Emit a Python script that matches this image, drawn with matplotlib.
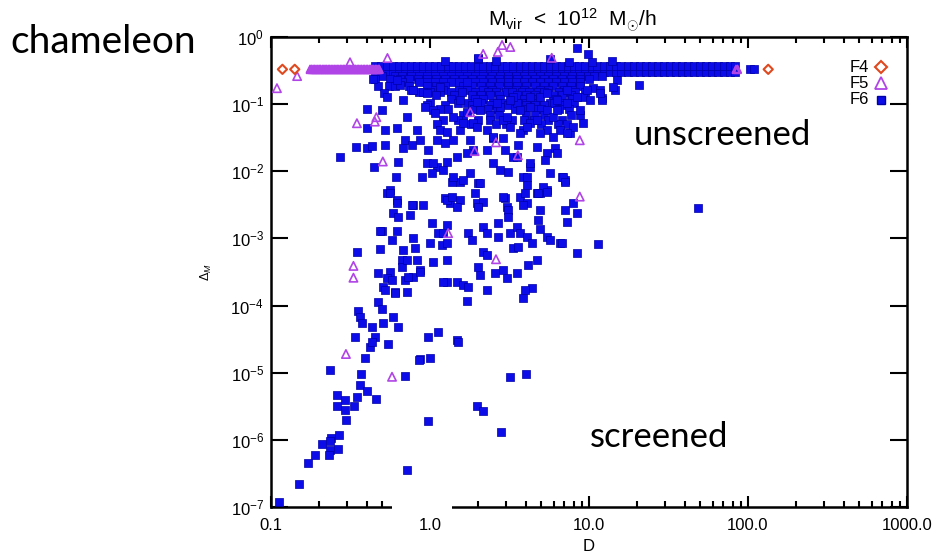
import matplotlib
matplotlib.use("Agg")
import matplotlib.pyplot as plt
from matplotlib.lines import Line2D
from matplotlib.patches import Rectangle
from matplotlib.ticker import FixedLocator, FixedFormatter, LogLocator, NullLocator
import matplotlib.transforms as mtransforms

# ---------------- data (D, Delta_M) ----------------
f4_D = [0.118, 0.141, 134]
f4_dM = [0.33, 0.33, 0.33]

f5_band_D = [0.176, 0.18, 0.184, 0.188, 0.192, 0.197, 0.201, 0.205, 0.210, 0.215,
             0.219, 0.224, 0.229, 0.234, 0.239, 0.245, 0.250, 0.256, 0.261, 0.267,
             0.273, 0.279, 0.285, 0.291, 0.298, 0.305, 0.311, 0.318, 0.325, 0.333,
             0.340, 0.348, 0.355, 0.363, 0.371, 0.38, 0.388, 0.397, 0.405, 0.415,
             0.424, 0.433, 0.443, 0.453, 0.463, 0.472, 0.48, 84.0, 86.0]
f5_band_levels = [0.325, 0.335]
f5_points = [(0.109, 0.173), (0.146, 0.262), (0.314, 0.42), (0.54, 0.486),
             (2.84, 0.76), (3.2, 0.71), (2.67, 0.60), (2.16, 0.56), (5.83, 0.49),
             (0.347, 0.052), (0.46, 0.064), (0.45, 0.055), (0.505, 0.014),
             (8.75, 0.029), (8.75, 0.0042), (1.79, 0.076), (2.6, 0.027),
             (1.91, 0.020), (3.57, 0.0173), (1.3, 0.0012), (2.6, 0.00049),
             (0.33, 0.00039), (0.33, 0.00026), (0.296, 1.9e-5), (0.577, 8.7e-6)]

# dense horizontal band of F6 haloes
f6_band_D = [0.45, 0.49, 0.535, 0.585, 0.64, 0.70, 0.76, 0.83, 0.91, 0.99, 1.08,
             1.18, 1.29, 1.40, 1.53, 1.67, 1.82, 1.99, 2.17, 2.37, 2.58, 2.82,
             3.07, 3.35, 3.66, 3.99, 4.35, 4.75, 5.18, 5.65, 6.17, 6.73, 7.34,
             8.0, 8.7, 9.5, 10.4, 11.3, 12.4, 13.5, 14.7, 16.0, 17.5, 19.1, 20.8,
             22.7, 24.8, 27.0, 29.5, 32.2, 35.1, 38.3, 41.8, 45.6, 49.7, 54.3,
             59.2, 64.6, 70.5, 76.9, 83.0]
f6_band_levels = [0.30, 0.37]

# dense cloud just below the band
f6_dense_rows = {
    0.265: [0.50, 0.60, 0.67, 0.76, 0.85, 0.96, 1.08, 1.21, 1.36, 1.53, 1.72, 1.93,
            2.17, 2.44, 2.74, 3.08, 3.46, 3.89, 4.37, 4.91, 5.52, 6.2, 6.97, 7.83,
            8.8, 9.9, 10.8, 12.0],
    0.24: [0.45, 0.56, 0.647, 0.738, 0.841, 0.958, 1.09, 1.24, 1.42, 1.61,
           1.84, 2.09, 2.38, 2.72, 3.10, 3.53, 4.02, 4.57, 5.21, 5.94, 6.77,
           7.71, 8.78, 10.0],
    0.215: [0.67, 0.85, 0.96, 1.08, 1.21, 1.36, 1.53, 1.72, 1.93, 2.17, 2.44, 2.74,
            3.08, 3.46, 3.89, 4.37, 4.91, 5.52, 6.2, 6.97, 7.83, 8.8],
    0.186: [0.47, 0.55, 0.60, 0.738, 0.958, 1.09, 1.24, 1.61, 1.84, 2.09, 2.38,
            2.72, 3.10, 3.53, 4.02, 4.57, 5.21, 5.94, 6.77, 7.71, 8.78],
    0.165: [0.76, 1.08, 1.21, 1.53, 1.72, 2.17, 2.44, 3.08, 3.46, 3.89, 4.91, 5.52,
            6.97, 7.83],
    0.15: [0.85, 1.0, 1.15, 1.36, 1.6, 1.93, 2.3, 2.6, 3.0, 3.3, 3.8, 4.2, 4.8,
           5.2, 6.5, 7.2, 8.2, 9.5],
    0.137: [1.09, 1.42, 1.84, 2.09, 2.38, 2.72, 3.53, 4.02, 4.57, 5.94, 6.77, 7.71],
    0.12: [1.36, 1.93, 2.17, 2.74, 3.89, 4.37, 6.2, 7.83],
    0.105: [1.0, 1.5, 1.7, 2.1, 2.5, 2.9, 3.5, 4.0, 4.7, 5.7, 6.0, 7.0, 8.0],
    0.097: [1.24, 1.84, 2.38, 3.10, 4.02, 4.57, 5.21, 6.77],
    0.085: [1.15, 1.3, 1.9, 2.3, 2.65, 3.4, 3.9, 4.7, 5.0, 6.5, 7.5],
    0.069: [1.61, 2.38, 2.72, 4.02, 4.57, 5.21, 7.71, 8.78],
    0.058: [1.2, 1.5, 2.0, 2.4, 3.3, 3.9, 4.5, 5.5, 6.8],
    0.05: [1.1, 1.8, 2.6, 3.0, 5.0, 6.4, 7.3],
}

f6_upper = [(2.0, 0.47), (2.6, 0.44), (5.7, 0.47), (1.25, 0.44), (7.5, 0.43),
            (10.5, 0.42), (8.41, 0.686), (9.86, 0.558), (2.00, 0.486),
            (14.0, 0.44), (103, 0.33), (109, 0.33), (20.6, 0.193), (14.6, 0.162),
            (12.1, 0.123), (15.0, 0.229), (14.2, 0.18)]

f6_mid = [(0.438, 0.237), (0.402, 0.0845), (0.402, 0.044), (0.343, 0.0229),
          (0.402, 0.0222), (0.432, 0.0237), (0.272, 0.0163), (0.445, 0.0116),
          (0.521, 0.0411), (0.521, 0.0246), (0.499, 0.0817), (0.514, 0.146),
          (0.537, 0.128), (0.620, 0.044), (0.629, 0.0137), (0.611, 0.0082),
          (0.560, 0.00525), (0.537, 0.00473), (0.620, 0.00372), (0.782, 0.00314),
          (0.904, 0.00314), (0.891, 0.0082), (0.958, 0.0133), (0.865, 0.0292),
          (0.696, 0.0292), (0.676, 0.0222), (0.771, 0.0246), (0.971, 0.0207),
          (0.829, 0.0411), (0.716, 0.0643), (0.676, 0.115), (0.647, 0.193),
          (0.620, 0.229), (0.782, 0.162), (0.904, 0.151), (0.958, 0.097),
          (1.04, 0.0817), (1.16, 0.0411), (1.11, 0.0292), (1.24, 0.0263),
          (1.40, 0.0292), (1.48, 0.0163), (1.28, 0.0137), (1.11, 0.0116),
          (1.03, 0.0094), (1.21, 0.0104), (1.37, 0.0069), (1.55, 0.0069),
          (1.79, 0.0094), (2.00, 0.00667), (1.92, 0.00473), (2.00, 0.00314),
          (1.24, 0.00398), (1.34, 0.00336), (1.55, 0.00372), (1.86, 0.0207),
          (1.71, 0.0187), (1.55, 0.0411), (1.86, 0.0523), (1.71, 0.0762),
          (1.98, 0.107), (2.28, 0.0411), (2.49, 0.0312), (2.28, 0.0207),
          (2.49, 0.0133), (2.75, 0.0104), (3.10, 0.00973), (3.33, 0.0163),
          (2.96, 0.0207), (3.57, 0.0246), (3.85, 0.0411), (4.26, 0.0523),
          (3.18, 0.0456), (2.88, 0.058), (2.75, 0.0906), (3.53, 0.104),
          (4.26, 0.0906), (4.92, 0.128), (5.44, 0.0817), (5.44, 0.0411),
          (4.92, 0.0371), (4.71, 0.0229), (5.44, 0.0187), (6.11, 0.0222),
          (5.29, 0.0147), (4.26, 0.0116), (3.85, 0.0082), (4.07, 0.00622),
          (4.92, 0.00473), (5.44, 0.00525), (3.68, 0.00412), (2.96, 0.00398),
          (4.07, 0.00336), (5.69, 0.0094), (6.77, 0.0082), (7.06, 0.0074),
          (7.93, 0.00336), (6.58, 0.0411), (7.60, 0.0371), (7.93, 0.0456),
          (8.78, 0.0817), (9.17, 0.128), (10.1, 0.115), (12.1, 0.115),
          (10.6, 0.174), (11.7, 0.162), (1.71, 0.213), (7.27, 0.162),
          (6.29, 0.115), (5.94, 0.0643), (3.33, 0.128),
          (0.958, 0.146), (1.16, 0.18), (0.93, 0.0906), (1.07, 0.0737),
          (1.40, 0.0643), (1.61, 0.0523), (1.28, 0.0384), (1.98, 0.0456),
          (2.88, 0.0312), (2.49, 0.0323), (3.68, 0.0371), (4.07, 0.0456),
          (4.71, 0.058), (6.29, 0.0817), (7.27, 0.104), (8.41, 0.128),
          (9.71, 0.162), (11.7, 0.146), (3.18, 0.115), (2.64, 0.104),
          (2.06, 0.0817), (1.55, 0.115), (4.26, 0.128), (5.44, 0.146),
          (3.68, 0.0817), (3.05, 0.0643), (1.79, 0.0292), (1.04, 0.0133),
          (1.40, 0.0082), (1.61, 0.0074), (2.06, 0.00667), (3.53, 0.0163),
          (4.26, 0.0133), (4.07, 0.0082), (5.14, 0.0058), (6.86, 0.0082),
          (6.29, 0.0187), (5.94, 0.0323), (7.27, 0.0371), (9.17, 0.0523),
          (4.71, 0.00473), (2.88, 0.00412), (1.98, 0.00336), (1.28, 0.00372),
          (3.05, 0.00292), (7.06, 0.0069)]

f6_low = [(0.56, 0.00473), (0.62, 0.00336), (0.585, 0.00238), (0.629, 0.00208),
          (0.771, 0.00314), (1.37, 0.00412), (1.48, 0.00292), (2.15, 0.00348),
          (2.00, 0.00292), (3.10, 0.00264), (3.10, 0.00208), (3.96, 0.00473),
          (3.85, 0.00314), (4.78, 0.00473), (5.44, 0.0049), (4.92, 0.00264),
          (4.78, 0.00187), (7.06, 0.00264), (8.41, 0.00238), (7.27, 0.00175),
          (0.749, 0.00222), (0.499, 0.00128), (0.62, 0.00128), (0.577, 0.000944),
          (0.782, 0.00101), (0.805, 0.000716), (0.676, 0.00067), (0.667, 0.000475),
          (0.829, 0.000475), (0.865, 0.000337), (0.782, 0.000265), (0.696, 0.000239),
          (0.56, 0.000315), (0.537, 0.000256), (0.506, 0.000188), (0.521, 0.00017),
          (0.602, 0.000158), (0.716, 0.000158), (1.04, 0.000443), (1.28, 0.000475),
          (1.19, 0.000794), (1.28, 0.000851), (1.00, 0.000851), (1.03, 0.00169),
          (1.28, 0.00158), (1.12, 0.0012), (1.21, 0.0012), (1.73, 0.0012),
          (1.84, 0.000944), (2.15, 0.00147), (2.28, 0.0012), (2.68, 0.00169),
          (2.68, 0.00105), (2.15, 0.000625), (2.28, 0.000563), (2.00, 0.000373),
          (2.06, 0.000284), (2.56, 0.000304), (2.88, 0.000337), (3.05, 0.000256),
          (3.53, 0.000304), (3.33, 0.000716), (3.57, 0.000741), (3.18, 0.0012),
          (3.53, 0.00147), (3.68, 0.0012), (4.07, 0.00105), (4.38, 0.000851),
          (4.71, 0.000475), (4.13, 0.000399), (4.92, 0.00137), (5.44, 0.00105),
          (5.69, 0.000944), (6.58, 0.000851), (8.41, 0.000604), (11.4, 0.000822),
          (1.28, 0.000223), (1.48, 0.000223), (1.61, 0.000201), (1.73, 0.000188),
          (1.21, 0.000223), (2.28, 0.00017), (1.71, 0.000116), (3.85, 0.000128),
          (4.38, 0.000181), (3.96, 0.00017), (0.585, 6.72e-5), (0.629, 4.76e-5),
          (0.506, 5.47e-5), (0.971, 3.38e-5), (1.12, 4.0e-5), (1.48, 3.04e-5),
          (0.348, 0.000625), (0.485, 0.00128), (0.485, 0.000692), (0.471, 0.000304),
          (0.471, 0.000112), (0.499, 9.0e-5), (0.352, 8.4e-5), (0.363, 6.7e-5),
          (0.373, 5.5e-5), (0.432, 4.76e-5), (0.337, 3.38e-5), (0.451, 3.38e-5),
          (0.419, 2.39e-5), (0.544, 2.65e-5), (0.39, 1.68e-5), (0.865, 1.62e-5),
          (1.00, 1.68e-5), (0.667, 0.000373), (0.716, 0.000475), (0.727, 0.000265),
          (0.865, 0.000315), (0.577, 0.000239), (0.602, 0.000153), (1.50, 2.84e-5),
          (0.235, 1.11e-5), (0.26, 4.6e-6), (0.292, 3.9e-6), (0.26, 3.2e-6),
          (0.292, 2.8e-6), (0.296, 2.0e-6), (0.333, 3.2e-6), (0.348, 4.3e-6),
          (0.363, 6.6e-6), (0.368, 9.7e-6), (0.402, 5.4e-6), (0.457, 4.0e-6),
          (0.432, 2.84e-5), (0.268, 1.17e-6), (0.238, 1.05e-6), (0.235, 9.5e-7),
          (0.209, 8.6e-7), (0.264, 7.3e-7), (0.235, 7.0e-7), (0.232, 6.0e-7),
          (0.189, 6.0e-7), (0.171, 4.6e-7), (0.15, 2.2e-7), (0.112, 1.2e-7),
          (0.696, 9.0e-6), (0.853, 1.57e-5), (0.716, 3.6e-7), (0.971, 1.9e-6),
          (1.98, 3.2e-6), (2.15, 2.7e-6), (2.80, 1.3e-6), (3.18, 8.7e-6),
          (4.02, 9.7e-6), (6.77, 0.000851), (48.5, 0.00283)]

x_ticks = [0.1, 1.0, 10.0, 100.0, 1000.0]
x_ticklabels = ["0.1", "1.0", "10.0", "100.0", "1000.0"]
y_ticks = [1e-7, 1e-6, 1e-5, 1e-4, 1e-3, 1e-2, 1e-1, 1e0]
y_ticklabels = [r"10$^{-7}$", r"10$^{-6}$", r"10$^{-5}$", r"10$^{-4}$",
                r"10$^{-3}$", r"10$^{-2}$", r"10$^{-1}$", r"10$^{0}$"]
legend_labels = ['F4', 'F5', 'F6']

# ---------------- figure ----------------
plt.rcParams['font.family'] = ['Liberation Sans', 'DejaVu Sans']
plt.rcParams['mathtext.fontset'] = 'custom'
plt.rcParams['mathtext.rm'] = 'Liberation Sans'
plt.rcParams['mathtext.it'] = 'Liberation Sans:italic'

fig = plt.figure(figsize=(9.37, 5.58), dpi=100)
ax = fig.add_axes([271/937, 1-507/558, 636/937, 470/558])

blue = '#0c0ce8'
blue_edge = '#0000a8'
violet = '#b044e6'
red = '#e0481e'

sq = dict(marker='s', s=34, c=blue, edgecolors=blue_edge, linewidths=0.5, zorder=3, clip_on=False)

# F6
for lev in f6_band_levels:
    ax.scatter(f6_band_D, [lev]*len(f6_band_D), **sq)
for lev, xs in f6_dense_rows.items():
    ax.scatter(xs, [lev]*len(xs), **sq)
for grp in (f6_upper, f6_mid, f6_low):
    xs, ys = zip(*grp)
    ax.scatter(xs, ys, **sq)

# F5
tri = dict(marker='^', s=36, facecolors='none', edgecolors=violet, linewidths=1.2, zorder=4, clip_on=False)
for lev in f5_band_levels:
    ax.scatter(f5_band_D, [lev]*len(f5_band_D), marker='^', s=28, facecolors='none',
               edgecolors=violet, linewidths=1.0, zorder=4, clip_on=False)
xs, ys = zip(*f5_points)
ax.scatter(xs, ys, **tri)

# F4
ax.scatter(f4_D, f4_dM, marker='D', s=22, facecolors='none', edgecolors=red,
           linewidths=1.5, zorder=5, clip_on=False)

ax.set_xscale('log')
ax.set_yscale('log')
ax.set_xlim(0.1, 1000)
ax.set_ylim(1e-7, 1)

ax.xaxis.set_major_locator(FixedLocator(x_ticks))
ax.xaxis.set_major_formatter(FixedFormatter(x_ticklabels))
ax.xaxis.set_minor_locator(LogLocator(base=10, subs=range(2, 10)))
ax.yaxis.set_major_locator(FixedLocator(y_ticks))
ax.yaxis.set_major_formatter(FixedFormatter(y_ticklabels))
ax.yaxis.set_minor_locator(NullLocator())

ax.tick_params(axis='both', which='both', direction='in', top=True, right=True,
               colors='black', labelsize=12, width=1.5)
ax.tick_params(axis='x', which='major', length=8, pad=8)
ax.tick_params(axis='x', which='minor', length=4)
ax.tick_params(axis='y', which='major', length=12, pad=5)
for sp in ax.spines.values():
    sp.set_linewidth(1.8)

ax.set_xlabel('D', fontsize=12, labelpad=4)
ax.set_ylabel(r'$\Delta_M$', fontsize=9, labelpad=12)

# gap in bottom axis line (as in the reference)
trans = mtransforms.blended_transform_factory(ax.transData, ax.transAxes)
ax.add_patch(Rectangle((0.577, -0.012), 1.37-0.577, 0.035, transform=trans,
                       facecolor='white', edgecolor='none', zorder=6, clip_on=False))

# legend (text right-aligned, symbol after text)
leg_y = [1-67/558, 1-83/558, 1-100/558]
leg_handles = [dict(marker='D', markersize=6.5, markerfacecolor='none', markeredgecolor=red, markeredgewidth=1.5),
               dict(marker='^', markersize=8, markerfacecolor='none', markeredgecolor=violet, markeredgewidth=1.3),
               dict(marker='s', markersize=6, markerfacecolor=blue, markeredgecolor=blue_edge)]
for lab, yy, st in zip(legend_labels, leg_y, leg_handles):
    fig.text(869/937, yy, lab, ha='right', va='center', fontsize=12)
    fig.add_artist(Line2D([881/937], [yy], linestyle='none', transform=fig.transFigure, **st))

fig.text(572/937, 1-20/558, r'M$_{\rm vir}$  <  10$^{12}$  M$_{\odot}$/h', ha='center', va='center',
         fontsize=15)
fig.text(10/937, 1-42/558, 'chameleon', ha='left', va='center', fontsize=28, family=['Lato', 'DejaVu Sans'])
fig.text(722/937, 1-135/558, 'unscreened', ha='center', va='center', fontsize=25, family=['Lato', 'DejaVu Sans'])
fig.text(659/937, 1-437/558, 'screened', ha='center', va='center', fontsize=25, family=['Lato', 'DejaVu Sans'])

fig.savefig('out.png', dpi=100, facecolor='white')
